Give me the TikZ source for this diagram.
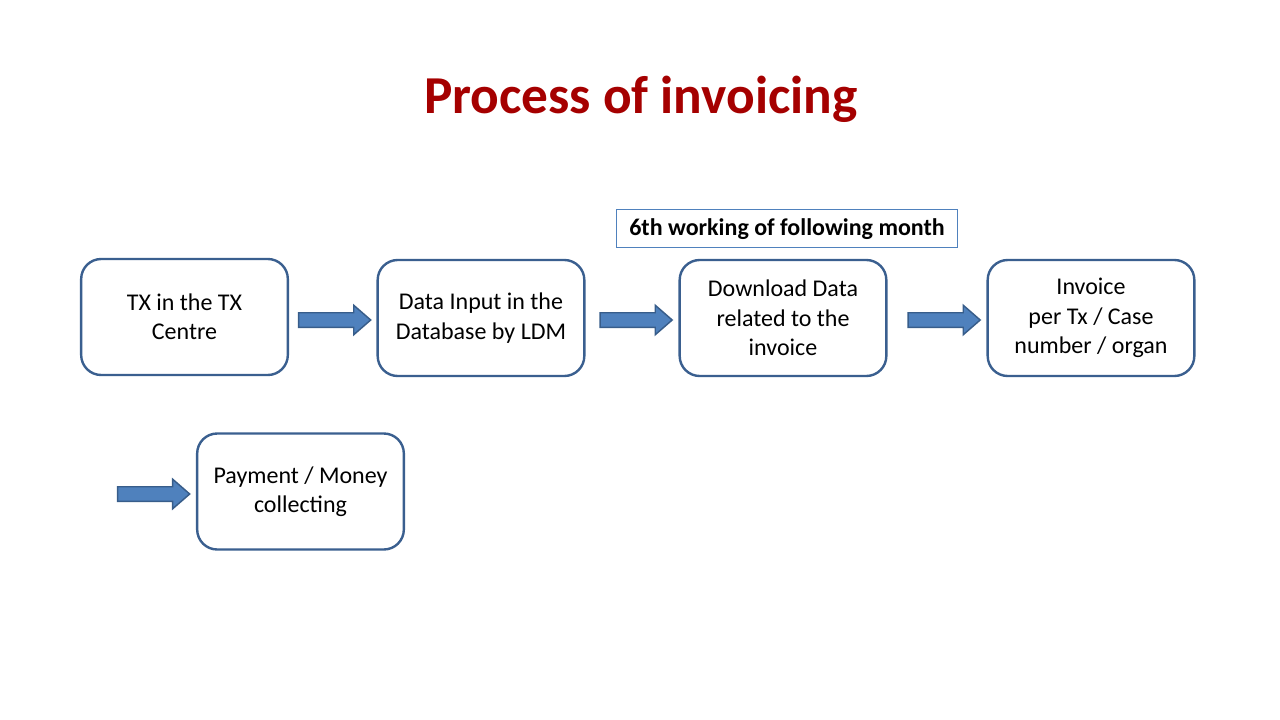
\documentclass[tikz,border=0pt]{standalone}
\usepackage{fontspec}
\setmainfont{Carlito}
\usepackage{xcolor}
\usetikzlibrary{shapes.arrows}
\definecolor{box-blue}{HTML}{3A5F8F}
\definecolor{note-blue}{HTML}{4F81BD}
\definecolor{arrow-fill}{HTML}{4F81BD}
\definecolor{arrow-line}{HTML}{385D8A}
\definecolor{title-red}{HTML}{A50000}

\begin{document}
\begin{tikzpicture}[x=0.75pt, y=-0.75pt,
      every node/.style={font=\fontsize{18}{22}\selectfont},
      stepbox/.style={draw=box-blue, line width=1.8pt, fill=white,
          rounded corners=15pt, minimum width=155pt, minimum height=87pt,
          align=center, inner sep=2pt},
      blockarrow/.style={single arrow, draw=arrow-line, line width=1.1pt,
          fill=arrow-fill, minimum height=54pt, inner xsep=0pt,
          inner ysep=4.9pt, single arrow head extend=5.6pt,
          single arrow tip angle=82}]
    \useasboundingbox (0,0) rectangle (1280,720);
    \node[font=\fontsize{40}{48}\selectfont\bfseries, text=title-red]
          (TITLE) at (641,99) {Process of invoicing};
    \node[draw=note-blue, line width=0.9pt, minimum width=256pt,
          minimum height=29pt, text height=13pt, text depth=2pt,
          font=\fontsize{18}{22}\selectfont\bfseries]
          (NOTE) at (787,228.5) {6th working of following month};
    \node[stepbox] (TX) at (184.5,317) {TX in the TX\\Centre};
    \node[stepbox] (INPUT) at (481,318) {Data Input in the\\Database by LDM};
    \node[stepbox] (DOWNLOAD) at (783,318) {Download Data\\related to the\\invoice};
    \node[stepbox] (INVOICE) at (1091,318) {Invoice\\per Tx / Case\\number / organ};
    \node[stepbox] (PAY) at (300.5,491.5) {Payment / Money\\collecting};
    \node[blockarrow] (A1) at (330.5,320) {};
    \node[blockarrow] (A2) at (632,320) {};
    \node[blockarrow] (A3) at (940,320) {};
    \node[blockarrow] (A4) at (149.5,494) {};
  \end{tikzpicture}
\end{document}
